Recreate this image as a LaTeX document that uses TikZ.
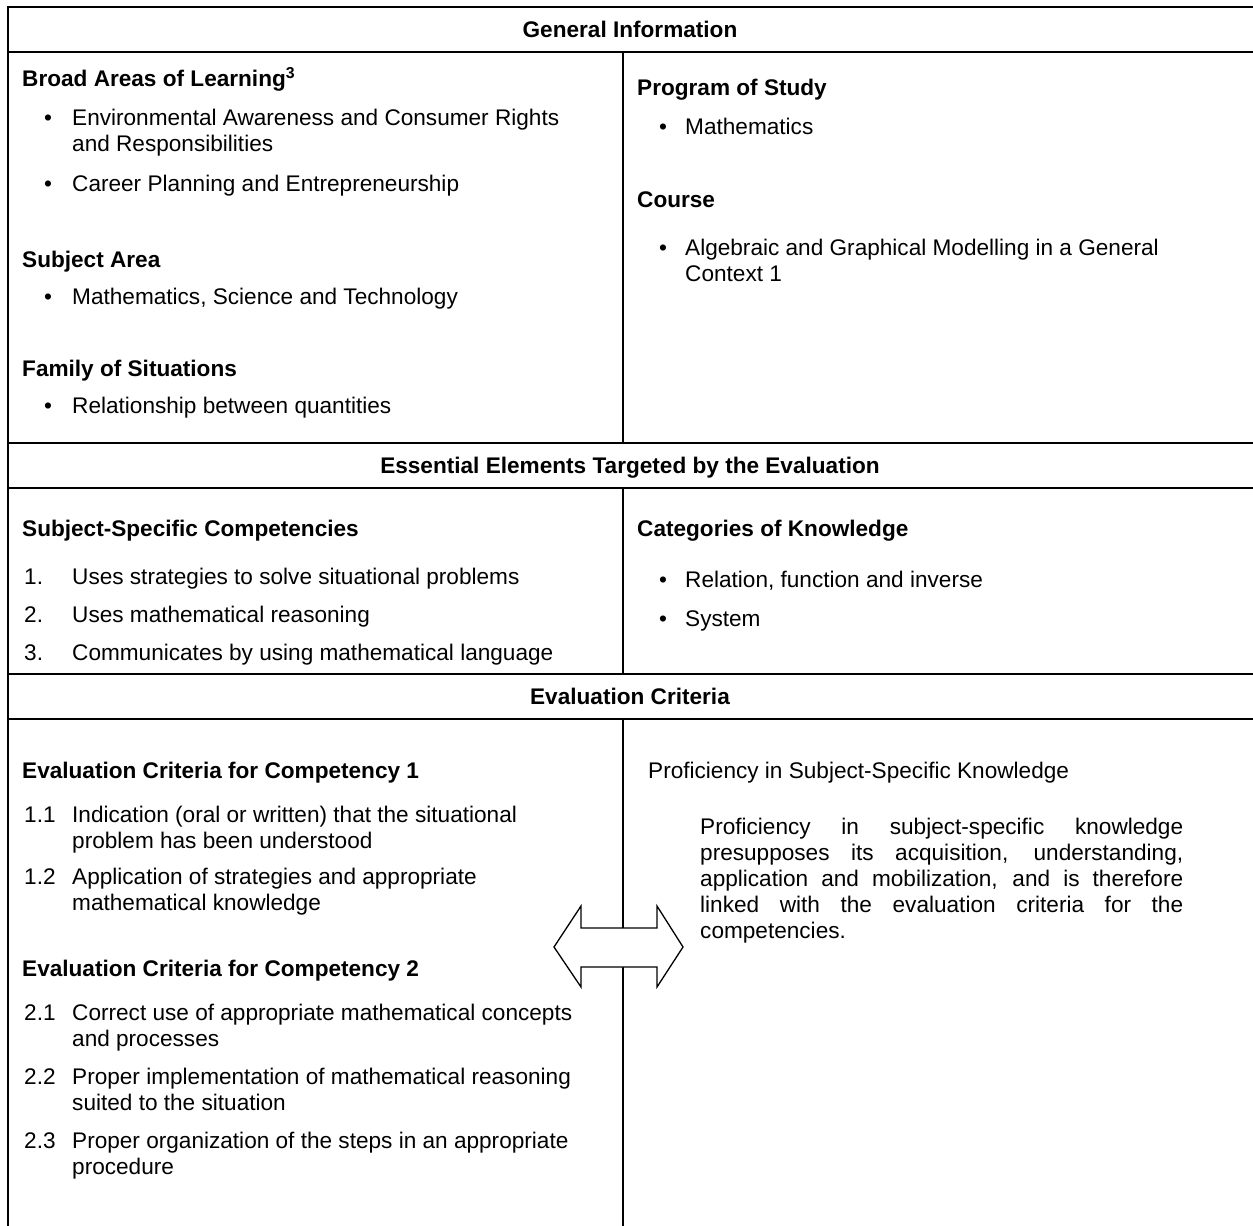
\documentclass[tikz,border=0pt]{standalone}
\usepackage{fontspec}
\setmainfont{Liberation Sans}
\begin{document}
\begin{tikzpicture}[x=1pt,y=-1pt,
  txt/.style={anchor=base west, inner sep=0pt, font=\fontsize{22.6}{27}\selectfont},
  hd/.style={anchor=base west, inner sep=0pt, font=\fontsize{22.6}{27}\selectfont\bfseries},
  ttl/.style={anchor=base, inner sep=0pt, font=\fontsize{22.6}{27}\selectfont\bfseries},
  bul/.style={anchor=base, inner sep=0pt, font=\fontsize{22.6}{27}\selectfont},
  rule/.style={line width=2pt},
  bigarrow/.style={line width=1.3pt, fill=white, line join=miter}]
\useasboundingbox (0,0) rectangle (1253,1226);
% table rules
\draw[rule] (8,1226) -- (8,7) -- (1253,7);
\draw[rule] (8,52) -- (1253,52);
\draw[rule] (8,443) -- (1253,443);
\draw[rule] (8,488) -- (1253,488);
\draw[rule] (8,674) -- (1253,674);
\draw[rule] (8,719) -- (1253,719);
\draw[rule] (623,52) -- (623,443);
\draw[rule] (623,488) -- (623,674);
\draw[rule] (623,719) -- (623,1226);
% header rows
\node[ttl] (t1) at (630,37.5) {General Information};
\node[ttl] (t2) at (630,473.5) {Essential Elements Targeted by the Evaluation};
\node[ttl] (t3) at (630,704.5) {Evaluation Criteria};
% section 1 left
\node[hd] (bal) at (22,86) {Broad Areas of Learning\textsuperscript{3}};
\node[bul] (b1) at (48,125) {•};
\node[txt] (ea1) at (72,125) {Environmental Awareness and Consumer Rights};
\node[txt] (ea2) at (72,151) {and Responsibilities};
\node[bul] (b2) at (48,191) {•};
\node[txt] (cp) at (72,191) {Career Planning and Entrepreneurship};
\node[hd] (sa) at (22,267) {Subject Area};
\node[bul] (b3) at (48,304) {•};
\node[txt] (mst) at (72,304) {Mathematics, Science and Technology};
\node[hd] (fs) at (22,376) {Family of Situations};
\node[bul] (b4) at (48,413) {•};
\node[txt] (rbq) at (72,413) {Relationship between quantities};
% section 1 right
\node[hd] (pos) at (637,95) {Program of Study};
\node[bul] (b5) at (663,134) {•};
\node[txt] (math) at (685,134) {Mathematics};
\node[hd] (crs) at (637,207) {Course};
\node[bul] (b6) at (663,255) {•};
\node[txt] (agm1) at (685,255) {Algebraic and Graphical Modelling in a General};
\node[txt] (agm2) at (685,281) {Context 1};
% section 2 left
\node[hd] (ssc) at (22,536) {Subject-Specific Competencies};
\node[txt] (n1) at (24,584) {1.};
\node[txt] (c1) at (72,584) {Uses strategies to solve situational problems};
\node[txt] (n2) at (24,622) {2.};
\node[txt] (c2) at (72,622) {Uses mathematical reasoning};
\node[txt] (n3) at (24,660) {3.};
\node[txt] (c3) at (72,660) {Communicates by using mathematical language};
% section 2 right
\node[hd] (cok) at (637,536) {Categories of Knowledge};
\node[bul] (b7) at (663,587) {•};
\node[txt] (rfi) at (685,587) {Relation, function and inverse};
\node[bul] (b8) at (663,626) {•};
\node[txt] (sys) at (685,626) {System};
% section 3 left
\node[hd] (ec1) at (22,778) {Evaluation Criteria for Competency 1};
\node[txt] (n11) at (24,822) {1.1};
\node[txt] (e11a) at (72,822) {Indication (oral or written) that the situational};
\node[txt] (e11b) at (72,848) {problem has been understood};
\node[txt] (n12) at (24,884) {1.2};
\node[txt] (e12a) at (72,884) {Application of strategies and appropriate};
\node[txt] (e12b) at (72,910) {mathematical knowledge};
\node[hd] (ec2) at (22,976) {Evaluation Criteria for Competency 2};
\node[txt] (n21) at (24,1020) {2.1};
\node[txt] (e21a) at (72,1020) {Correct use of appropriate mathematical concepts};
\node[txt] (e21b) at (72,1046) {and processes};
\node[txt] (n22) at (24,1084) {2.2};
\node[txt] (e22a) at (72,1084) {Proper implementation of mathematical reasoning};
\node[txt] (e22b) at (72,1110) {suited to the situation};
\node[txt] (n23) at (24,1148) {2.3};
\node[txt] (e23a) at (72,1148) {Proper organization of the steps in an appropriate};
\node[txt] (e23b) at (72,1174) {procedure};
% section 3 right
\node[txt] (pssk) at (648,778) {Proficiency in Subject-Specific Knowledge};
\node[txt] (p1) at (700,834) {\makebox[483pt][s]{Proficiency in subject-specific knowledge}};
\node[txt] (p2) at (700,860) {\makebox[483pt][s]{presupposes its acquisition, understanding,}};
\node[txt] (p3) at (700,886) {\makebox[483pt][s]{application and mobilization, and is therefore}};
\node[txt] (p4) at (700,912) {\makebox[483pt][s]{linked with the evaluation criteria for the}};
\node[txt] (p5) at (700,938) {competencies.};
% double arrow
\draw[bigarrow] (554,947) -- (581,906) -- (581,928) -- (657,928) -- (657,906)
  -- (683,947) -- (657,987) -- (657,967) -- (581,967) -- (581,987) -- cycle;
\end{tikzpicture}
\end{document}
